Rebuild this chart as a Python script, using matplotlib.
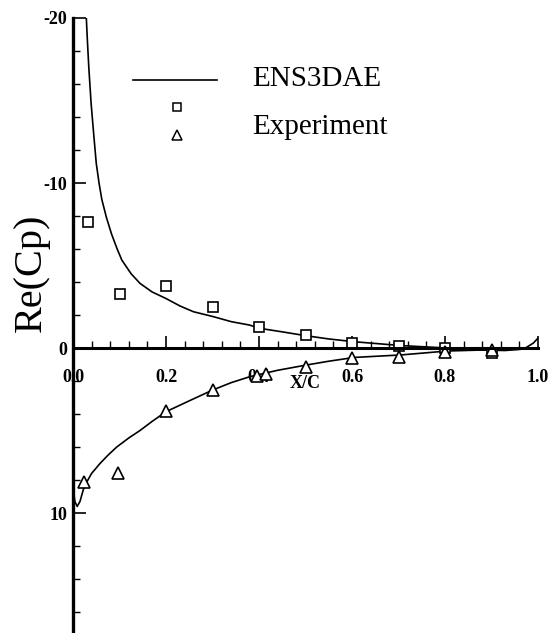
import matplotlib
matplotlib.use("Agg")
import matplotlib.pyplot as plt
import numpy as np

# ENS3DAE upper surface (real part of Cp)
upper_x = [0.027, 0.029, 0.031, 0.034, 0.039, 0.045, 0.050, 0.056, 0.062, 0.072,
           0.083, 0.095, 0.105, 0.125, 0.144, 0.170, 0.200, 0.230, 0.259, 0.302,
           0.340, 0.380, 0.400, 0.450, 0.500, 0.550, 0.605, 0.705, 0.805, 0.870,
           0.930, 0.970, 0.990, 1.000]
upper_cp = [-21.0, -19.8, -18.6, -17.0, -14.8, -12.8, -11.2, -10.0, -9.0, -7.9,
            -6.9, -6.0, -5.33, -4.5, -3.92, -3.4, -3.0, -2.55, -2.2, -1.9,
            -1.6, -1.39, -1.2, -0.98, -0.75, -0.55, -0.38, -0.15, 0.0, 0.12,
            0.15, 0.05, -0.3, -0.6]

# ENS3DAE lower surface
lower_x = [0.0, 0.004, 0.009, 0.015, 0.022, 0.028, 0.040, 0.058, 0.075, 0.094,
           0.120, 0.144, 0.170, 0.200, 0.250, 0.300, 0.340, 0.380, 0.440, 0.502,
           0.550, 0.605, 0.705, 0.805, 0.906, 0.960, 1.000]
lower_cp = [8.4, 9.3, 9.6, 9.3, 8.6, 8.2, 7.6, 7.0, 6.5, 6.0,
            5.45, 5.0, 4.45, 3.86, 3.2, 2.55, 2.1, 1.74, 1.35, 1.03,
            0.8, 0.57, 0.42, 0.18, 0.1, 0.08, 0.0]

# experiment
sq_x = [0.032, 0.10, 0.20, 0.30, 0.40, 0.50, 0.60, 0.70, 0.80, 0.90]
sq_cp = [-7.65, -3.27, -3.78, -2.5, -1.29, -0.79, -0.32, -0.12, 0.0, 0.28]
tri_x = [0.024, 0.096, 0.20, 0.30, 0.395, 0.415, 0.50, 0.60, 0.70, 0.80, 0.90]
tri_cp = [8.1, 7.6, 3.8, 2.55, 1.7, 1.6, 1.13, 0.63, 0.57, 0.22, 0.1]

plt.rcParams['font.family'] = ['Liberation Serif', 'DejaVu Serif']

fig = plt.figure(figsize=(5.56, 6.33), dpi=100)
ax = fig.add_axes([73/556, 0.0, 465/556, 615/633])

ax.plot(upper_x, upper_cp, color='black', lw=1.2)
ax.plot(lower_x, lower_cp, color='black', lw=1.2)
ax.plot(sq_x, sq_cp, ls='none', marker='s', ms=7.5, mfc='white', mec='black', mew=1.2)
ax.plot(tri_x, tri_cp, ls='none', marker='^', ms=8.5, mfc='white', mec='black', mew=1.2)

ax.set_xlim(0, 1.0)
ax.set_ylim(17.27, -20)

for s in ['top', 'right']:
    ax.spines[s].set_visible(False)
ax.spines['left'].set_linewidth(2.4)
ax.spines['bottom'].set_position(('data', 0))
ax.spines['bottom'].set_linewidth(2.2)

ax.set_xticks(np.arange(0, 1.01, 0.2))
ax.set_xticks(np.arange(0, 1.001, 0.04), minor=True)
ax.set_xticklabels(['0.0', '0.2', '0.4', '0.6', '0.8', '1.0'])
ax.set_yticks([-20, -10, 0, 10])
ax.set_yticks(np.arange(-20, 17, 2), minor=True)
ax.set_yticklabels(['-20', '-10', '0', '10'])

ax.tick_params(axis='both', which='major', direction='in', length=9, width=1.2,
               labelsize=13)
ax.tick_params(axis='both', which='minor', direction='in', length=5, width=1.0)
ax.tick_params(axis='x', pad=15)
ax.tick_params(axis='y', pad=4)
for lab in ax.get_xticklabels() + ax.get_yticklabels():
    lab.set_fontweight('bold')

ax.set_xlabel('X/C', fontsize=13, fontweight='bold', va='center')
ax.xaxis.set_label_coords(0.5, 0.406)
ax.set_ylabel('Re(Cp)', fontsize=29, va='center')
ax.yaxis.set_label_coords(-0.09, 0.585)

# legend
ax.plot([0.13, 0.31], [0.9, 0.9], color='black', lw=1.2, transform=ax.transAxes)
ax.plot([0.223], [0.855], marker='s', ms=6, mfc='white', mec='black', mew=1.1,
        transform=ax.transAxes)
ax.plot([0.223], [0.81], marker='^', ms=6.5, mfc='white', mec='black', mew=1.1,
        transform=ax.transAxes)
ax.text(0.385, 0.9, 'ENS3DAE', fontsize=21, va='center', transform=ax.transAxes)
ax.text(0.385, 0.822, 'Experiment', fontsize=21, va='center', transform=ax.transAxes)

fig.savefig('out.png', dpi=100)
